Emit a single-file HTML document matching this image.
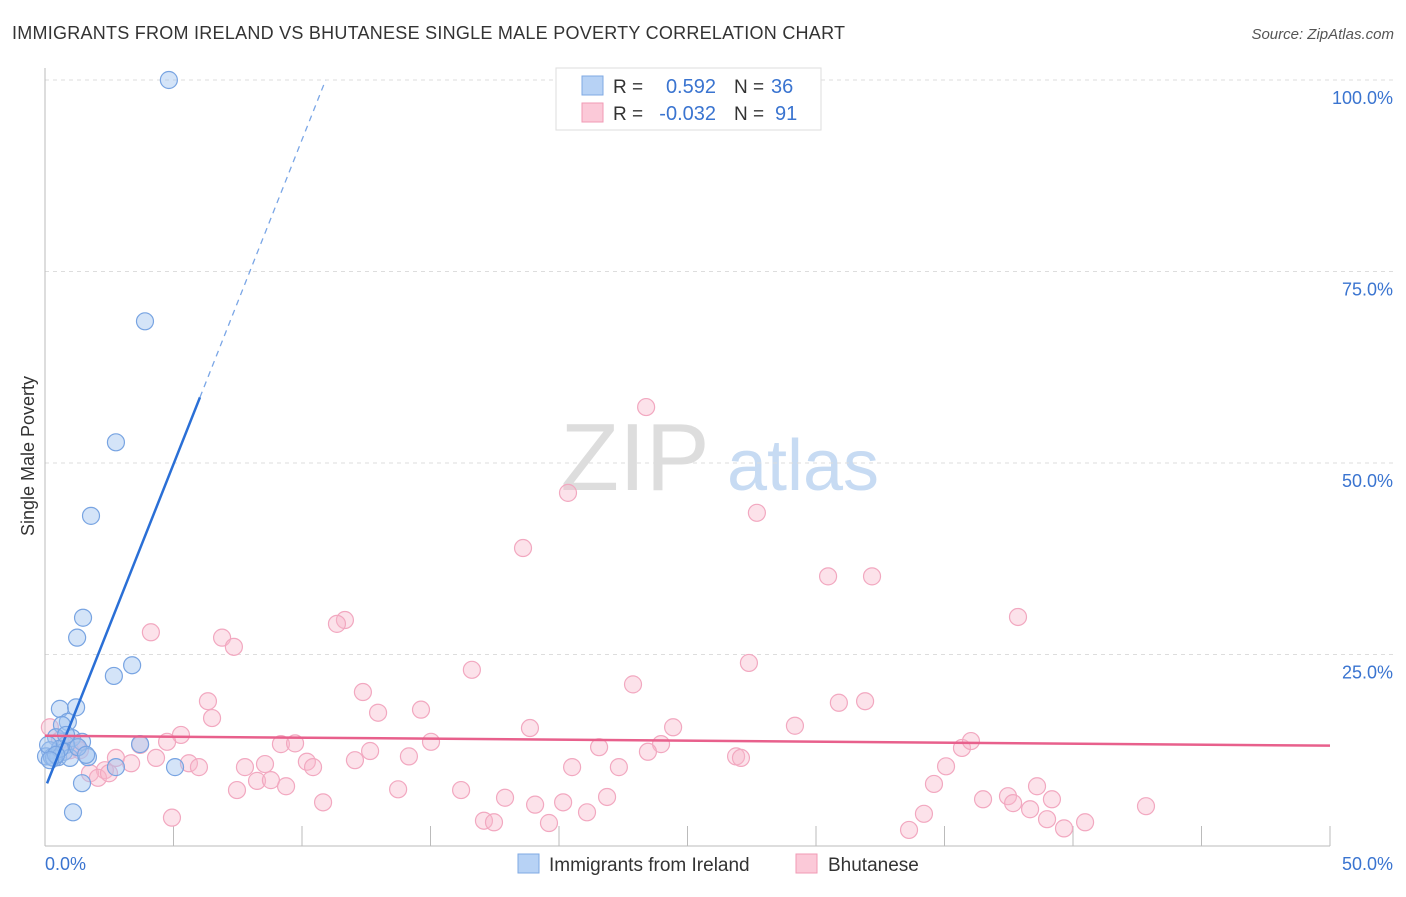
<!DOCTYPE html>
<html><head><meta charset="utf-8"><style>
body{margin:0;background:#fff;font-family:"Liberation Sans",sans-serif}
svg text{font-family:"Liberation Sans",sans-serif}
</style></head><body>
<svg id="c" width="1406" height="892">
<text x="12" y="39" font-size="18" fill="#333" textLength="833">IMMIGRANTS FROM IRELAND VS BHUTANESE SINGLE MALE POVERTY CORRELATION CHART</text>
<text x="1394" y="39" font-size="15" fill="#555" text-anchor="end" font-style="italic">Source: ZipAtlas.com</text>
<g>
<text x="635" y="490" font-size="96" fill="#ddd" font-family="Liberation Serif,serif" text-anchor="middle">ZIP</text>
<text x="803" y="490" font-size="72" fill="#c7dbf3" text-anchor="middle">atlas</text>
</g>
<g id="grid"></g><g id="axes"></g><g id="pts"></g><g id="lines"></g>
<text transform="translate(34,456) rotate(-90)" font-size="18" fill="#333" text-anchor="middle">Single Male Poverty</text>
<g>
<rect x="556" y="68" width="265" height="62" fill="#fff" stroke="#ddd"/>
<rect x="582" y="76" width="21" height="19" fill="#b7d2f5" stroke="#7fa9e3"/>
<rect x="582" y="103" width="21" height="19" fill="#fbc9d8" stroke="#f09ab5"/>
<text x="613" y="93" font-size="19" fill="#333">R =</text><text x="716" y="93" font-size="20" fill="#3a74d0" text-anchor="end">0.592</text>
<text x="734" y="93" font-size="19" fill="#333">N =</text><text x="771" y="93" font-size="20" fill="#3a74d0">36</text>
<text x="613" y="120" font-size="19" fill="#333">R =</text><text x="716" y="120" font-size="20" fill="#3a74d0" text-anchor="end">-0.032</text>
<text x="734" y="120" font-size="19" fill="#333">N =</text><text x="775" y="120" font-size="20" fill="#3a74d0">91</text>
</g>
<g>
<rect x="518" y="854" width="21" height="19" fill="#b7d2f5" stroke="#7fa9e3"/>
<text x="549" y="871" font-size="19" fill="#333">Immigrants from Ireland</text>
<rect x="796" y="854" width="21" height="19" fill="#fbc9d8" stroke="#f09ab5"/>
<text x="828" y="871" font-size="19" fill="#333">Bhutanese</text>
</g>
</svg>
<script>
const blueX=[4.82,3.89,2.76,1.79,1.48,1.25,3.39,2.68,0.58,1.21,0.89,0.66,0.43,1.05,1.44,0.82,0.19,3.70,0.04,0.27,0.51,0.74,1.67,0.97,2.76,5.06,1.44,1.09,0.35,0.58,0.12,1.28,0.82,0.43,0.19,1.60];
const blueY=[100,68.5,52.7,43.1,29.8,27.2,23.6,22.2,17.9,18.1,16.2,15.8,14.2,14.1,13.6,13.2,12.5,13.3,11.7,11.6,11.6,12.3,11.6,11.5,10.3,10.3,8.2,4.4,11.5,12.7,13.2,12.9,14.5,11.9,11.2,11.9];
const pinkX=[23.39,20.35,27.70,18.60,30.47,32.18,37.86,11.67,11.36,4.12,6.89,7.35,16.61,27.39,22.88,12.37,6.34,30.89,31.91,6.50,12.96,14.63,29.18,18.87,24.44,5.29,4.75,9.18,9.73,15.02,21.56,23.97,23.46,35.68,36.03,12.65,3.70,2.76,3.35,4.32,5.60,5.99,7.78,8.56,10.19,10.43,12.06,14.16,20.51,22.33,26.89,27.08,35.06,2.33,1.75,2.06,2.49,7.47,8.25,8.79,9.38,13.74,16.19,17.90,19.07,20.16,21.87,21.09,10.82,4.94,17.08,17.47,19.61,33.62,34.20,34.59,36.50,37.47,37.67,38.60,38.33,39.18,38.99,39.65,40.47,42.84,0.19,0.58,1.21,1.36,0.97];
const pinkY=[57.3,46.1,43.5,38.9,35.2,35.2,29.9,29.5,29.0,27.9,27.2,26.0,23.0,23.9,21.1,20.1,18.9,18.7,18.9,16.7,17.4,17.8,15.7,15.4,15.5,14.5,13.6,13.3,13.4,13.6,12.9,13.3,12.3,12.8,13.7,12.4,13.2,11.5,10.8,11.5,10.8,10.3,10.3,10.7,11.0,10.3,11.2,11.7,10.3,10.3,11.7,11.5,10.4,9.9,9.5,8.9,9.5,7.3,8.5,8.6,7.8,7.4,7.3,6.3,5.4,5.7,6.4,4.4,5.7,3.7,3.3,3.1,3.0,2.1,4.2,8.1,6.1,6.5,5.6,7.8,4.8,6.1,3.5,2.3,3.1,5.2,15.5,13.8,13.1,12.5,12.5];
const yTicks=[25,50,75,100];
const yTickLabels=["25.0%","50.0%","75.0%","100.0%"];
const xTicks=[0,5,10,15,20,25,30,35,40,45,50];
const blueTrend=[7.5,8.47]; // intercept, slope
const pinkTrend=[14.4,13.1]; // y at x=0, y at x=50
const NS='http://www.w3.org/2000/svg';
const sx=v=>45+v/50*1285, sy=v=>846-v*7.66;
function mk(t,a,p){const e=document.createElementNS(NS,t);for(const k in a)e.setAttribute(k,a[k]);p.appendChild(e);return e;}
const grid=document.getElementById('grid'),axes=document.getElementById('axes'),pts=document.getElementById('pts'),lines=document.getElementById('lines');
yTicks.forEach((v,i)=>{
 const l=mk('line',{x1:45,x2:1393,y1:sy(v),y2:sy(v),stroke:'#ddd','stroke-dasharray':'4,4'},grid);
 
 
 const t=mk('text',{x:1393,y:sy(v)+24,'font-size':18,fill:'#3a74d0','text-anchor':'end'},axes);
 t.textContent=yTickLabels[i];
 
 
});
mk('line',{x1:45,x2:45,y1:68,y2:846,stroke:'#bbb'},axes);
mk('line',{x1:45,x2:1330,y1:846,y2:846,stroke:'#bbb'},axes);
xTicks.forEach(v=>{const l=mk('line',{x1:sx(v),x2:sx(v),y1:826,y2:846,stroke:'#bbb'},axes);
 
 });
let t0=mk('text',{x:45,y:870,'font-size':18,fill:'#3a74d0'},axes);t0.textContent=xTicks[0].toFixed(1)+'%';


let t1=mk('text',{x:1393,y:870,'font-size':18,fill:'#3a74d0','text-anchor':'end'},axes);t1.textContent=xTicks[xTicks.length-1].toFixed(1)+'%';


pinkX.forEach((x,i)=>{const c=mk('circle',{cx:sx(x),cy:sy(pinkY[i]),r:8.5,fill:'rgba(248,182,202,0.4)',stroke:'#f2a8c0','stroke-width':1.2},pts);
 
 });
blueX.forEach((x,i)=>{const c=mk('circle',{cx:sx(x),cy:sy(blueY[i]),r:8.5,fill:'rgba(160,196,240,0.45)',stroke:'#78a4e2','stroke-width':1.2},pts);
 
 });
const bx0=0.08,bx1=6.03,bx2=(100-blueTrend[0])/blueTrend[1];
const bl=mk('line',{x1:sx(bx0),y1:sy(blueTrend[0]+blueTrend[1]*bx0),x2:sx(bx1),y2:sy(blueTrend[0]+blueTrend[1]*bx1),stroke:'#2a6fd6','stroke-width':2.5},lines);


const bd=mk('line',{x1:sx(bx1),y1:sy(blueTrend[0]+blueTrend[1]*bx1),x2:sx(bx2),y2:sy(100),stroke:'#7aa6e6','stroke-width':1.3,'stroke-dasharray':'6,5'},lines);


const pl=mk('line',{x1:sx(0),y1:sy(pinkTrend[0]),x2:sx(50),y2:sy(pinkTrend[1]),stroke:'#e8608c','stroke-width':2.5},lines);


</script>
</body></html>
